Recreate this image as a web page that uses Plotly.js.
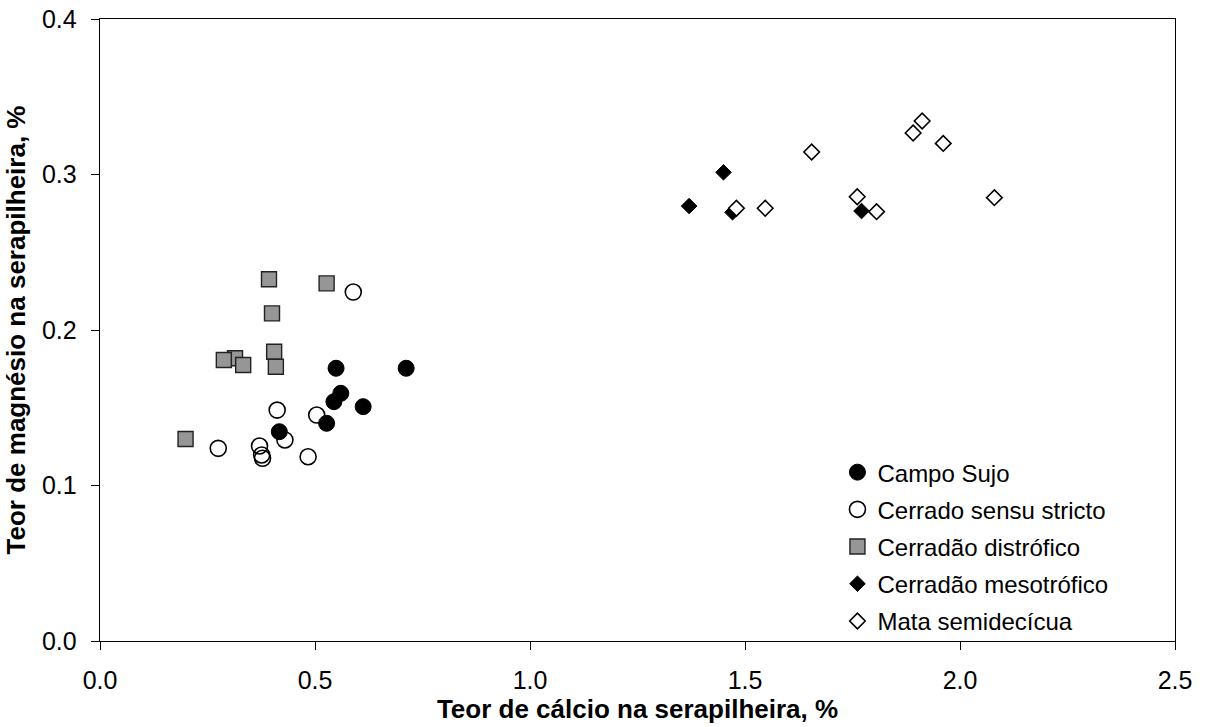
<!DOCTYPE html>
<html>
<head>
<meta charset="utf-8">
<script src="https://cdn.plot.ly/plotly-3.0.1.min.js"></script>
<style>html,body{margin:0;padding:0;background:#fff;}#chart{width:1205px;height:727px;}</style>
</head>
<body>
<div id="chart"></div>
<script>
// Campo Sujo
const campoX = [0.549, 0.712, 0.560, 0.544, 0.612, 0.527, 0.417];
const campoY = [0.1754, 0.1754, 0.1593, 0.1539, 0.1507, 0.1400, 0.1346];
// Cerrado sensu stricto
const cerradoX = [0.589, 0.412, 0.504, 0.275, 0.371, 0.376, 0.378, 0.430, 0.484];
const cerradoY = [0.2244, 0.1485, 0.1453, 0.1239, 0.1254, 0.1196, 0.1175, 0.1293, 0.1185];
// Cerradão distrófico
const distrX = [0.393, 0.527, 0.400, 0.405, 0.409, 0.314, 0.333, 0.288, 0.199];
const distrY = [0.2326, 0.2300, 0.2107, 0.1860, 0.1764, 0.1818, 0.1775, 0.1807, 0.1299];
// Cerradão mesotrófico
const mesoX = [1.450, 1.370, 1.471, 1.771];
const mesoY = [0.3014, 0.2797, 0.2757, 0.2765];
// Mata semidecícua
const mataX = [1.480, 1.547, 1.655, 1.761, 1.806, 2.080, 1.961, 1.891, 1.912];
const mataY = [0.2783, 0.2783, 0.3145, 0.2857, 0.2761, 0.2851, 0.3200, 0.3267, 0.3344];

const names = ["Campo Sujo", "Cerrado sensu stricto", "Cerradão distrófico", "Cerradão mesotrófico", "Mata semidecícua"];
const xTicks = [0, 0.5, 1, 1.5, 2, 2.5];
const xTickText = ["0.0", "0.5", "1.0", "1.5", "2.0", "2.5"];
const yTicks = [0, 0.1, 0.2, 0.3, 0.4];
const yTickText = ["0.0", "0.1", "0.2", "0.3", "0.4"];

const FONT = "Liberation Sans, Arial, sans-serif";

function tr(x, y, name, marker, i) {
  return {x: x, y: y, name: name, type: "scatter", mode: "markers",
    legendgroup: "g" + i, marker: marker, cliponaxis: false};
}

const data = [
  tr(campoX, campoY, names[0], {symbol: "circle", size: 16, color: "#000000", line: {color: "#000000", width: 1}}, 0),
  tr(cerradoX, cerradoY, names[1], {symbol: "circle", size: 16, color: "rgba(255,255,255,0)", line: {color: "#000000", width: 1.6}}, 1),
  tr(distrX, distrY, names[2], {symbol: "square", size: 15, color: "#969696", line: {color: "#222222", width: 1.4}}, 2),
  tr(mesoX, mesoY, names[3], {symbol: "diamond", size: 12, color: "#000000", line: {color: "#000000", width: 1}}, 3),
  tr(mataX, mataY, names[4], {symbol: "diamond", size: 12, color: "#ffffff", line: {color: "#000000", width: 1.6}}, 4)
];

const layout = {
  width: 1205, height: 727,
  margin: {l: 100, r: 30, t: 19, b: 86},
  paper_bgcolor: "#ffffff", plot_bgcolor: "#ffffff",
  font: {family: FONT, color: "#000000", size: 24},
  showlegend: true,
  legend: {x: 0.686, y: 0.307, xanchor: "left", yanchor: "top",
    font: {family: FONT, size: 24, color: "#000000"},
    traceorder: "grouped", tracegroupgap: 3, itemwidth: 30,
    bgcolor: "rgba(0,0,0,0)", borderwidth: 0},
  xaxis: {range: [0, 2.5], tickvals: xTicks, ticktext: xTickText,
    showgrid: false, zeroline: false, showline: true, linecolor: "#000000", linewidth: 1.3,
    mirror: true, ticks: "outside", ticklen: 8, tickcolor: "#000000", tickwidth: 1,
    ticklabelstandoff: 9,
    tickfont: {family: FONT, size: 25, color: "#000000"},
    title: {text: "Teor de cálcio na serapilheira, %", font: {family: FONT, size: 26, color: "#000000", weight: "bold"}, standoff: 4}},
  yaxis: {range: [0, 0.4], tickvals: yTicks, ticktext: yTickText,
    showgrid: false, zeroline: false, showline: true, linecolor: "#000000", linewidth: 1.3,
    mirror: true, ticks: "outside", ticklen: 8, tickcolor: "#000000", tickwidth: 1,
    ticklabelstandoff: 9,
    tickfont: {family: FONT, size: 25, color: "#000000"},
    title: {text: "Teor de magnésio na serapilheira, %", font: {family: FONT, size: 26, color: "#000000", weight: "bold"}, standoff: 8}}
};

Plotly.newPlot("chart", data, layout, {displayModeBar: false, staticPlot: true});
</script>
</body>
</html>
